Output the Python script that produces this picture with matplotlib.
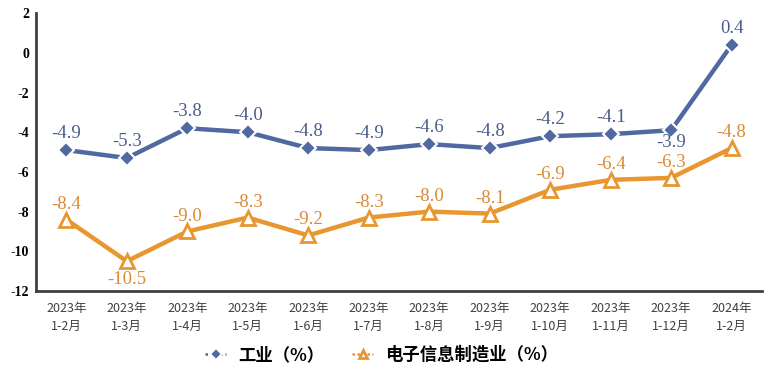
import matplotlib.pyplot as plt
import numpy as np

plt.rcParams['font.family'] = ['Noto Sans CJK SC', 'DejaVu Sans']

months = ['2023年\n1-2月', '2023年\n1-3月', '2023年\n1-4月', '2023年\n1-5月',
          '2023年\n1-6月', '2023年\n1-7月', '2023年\n1-8月', '2023年\n1-9月',
          '2023年\n1-10月', '2023年\n1-11月', '2023年\n1-12月', '2024年\n1-2月']
industry = [-4.9, -5.3, -3.8, -4.0, -4.8, -4.9, -4.6, -4.8, -4.2, -4.1, -3.9, 0.4]
electronics = [-8.4, -10.5, -9.0, -8.3, -9.2, -8.3, -8.0, -8.1, -6.9, -6.4, -6.3, -4.8]

blue = '#5069a0'
orange = '#e8962f'

fig = plt.figure(figsize=(7.68, 3.75), dpi=100)
ax = fig.add_axes([0.047, 0.224, 0.945, 0.741])

x = np.arange(len(months))
ax.plot(x, industry, color=blue, lw=3.2, marker='D', ms=8,
        mfc=blue, mec='white', mew=1.5, label='工业（%）', zorder=3)
ax.plot(x, electronics, color=orange, lw=3.2, marker='^', ms=10,
        mfc='white', mec=orange, mew=2, label='电子信息制造业（%）', zorder=3)

serif = ['Liberation Serif', 'DejaVu Serif']
for i, v in enumerate(industry):
    dy = -3 if i == 10 else 6
    ax.annotate(f'{v:.1f}', (i, v), xytext=(0, dy), textcoords='offset points',
                ha='center', va='bottom' if dy > 0 else 'top',
                color='#4a5d8a', fontsize=13.5, family=serif)
for i, v in enumerate(electronics):
    dy = -7 if i == 1 else 5
    ax.annotate(f'{v:.1f}', (i, v), xytext=(0, dy), textcoords='offset points',
                ha='center', va='bottom' if dy > 0 else 'top',
                color='#d98a35', fontsize=13.5, family=serif)

ax.set_xlim(-0.5, len(months) - 0.5)
ax.set_ylim(-12, 2)
ax.set_yticks(range(-12, 3, 2))
ax.set_yticklabels([str(t) for t in range(-12, 3, 2)], family=serif,
                   fontweight='bold', fontsize=10)
ax.set_xticks(x)
ax.set_xticklabels(months, fontsize=9, color='#404040', linespacing=1.5)
ax.tick_params(length=0, pad=8)
ax.tick_params(axis='y', pad=5)

for s in ['top', 'right']:
    ax.spines[s].set_visible(False)
for s in ['left', 'bottom']:
    ax.spines[s].set_color('#404040')
    ax.spines[s].set_linewidth(2)

leg = fig.legend(loc='center', bbox_to_anchor=(0.497, 0.053), ncol=2,
                 frameon=False, fontsize=12.5, handlelength=1.2,
                 columnspacing=1.6, handletextpad=0.7)
for h in leg.legend_handles:
    h.set_linestyle((0, (1, 1)))
    h.set_linewidth(1.8)
    h.set_markersize(6)
for t in leg.get_texts():
    t.set_fontweight('bold')

fig.savefig('out.png', dpi=100)
